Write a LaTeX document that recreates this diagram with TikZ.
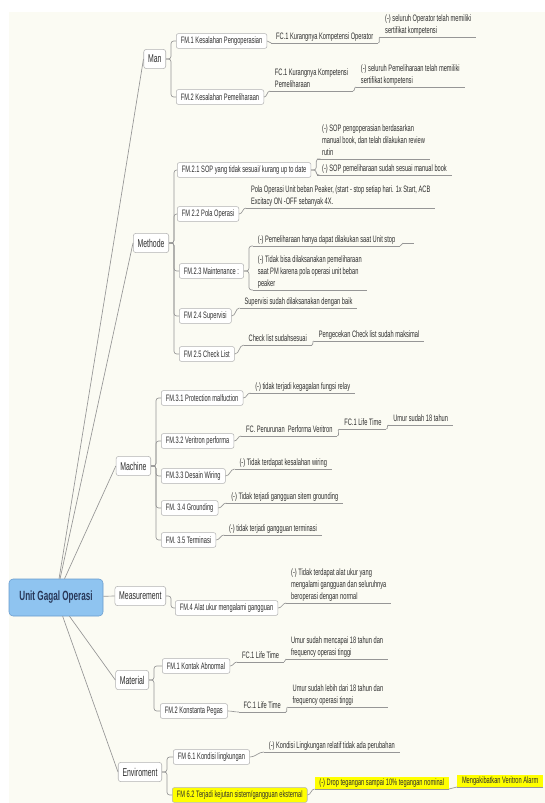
\documentclass[tikz,border=0pt]{standalone}
\usepackage{fontspec}
\setmainfont[FakeStretch=0.61]{Liberation Sans}
\usetikzlibrary{calc}

\definecolor{bgcream}{RGB}{251,251,243}
\definecolor{linegray}{RGB}{150,150,150}
\definecolor{boxgray}{RGB}{178,178,178}
\definecolor{txtgray}{RGB}{45,45,45}
\definecolor{rootblue}{RGB}{143,196,240}
\definecolor{rootedge}{RGB}{105,155,205}
\definecolor{rootink}{RGB}{40,55,88}
\definecolor{hiyellow}{RGB}{255,255,0}

\begin{document}
\begin{tikzpicture}[x=0.75pt,y=-0.75pt,
  root/.style={draw=rootedge,fill=rootblue,rounded corners=3pt,minimum width=70.5pt,minimum height=27.75pt,text=rootink,font=\fontsize{10}{12}\selectfont\bfseries},
  cat/.style={draw=boxgray,fill=white,rounded corners=2pt,minimum height=14.5pt,inner xsep=3.2pt,text=txtgray,font=\fontsize{8.5}{10}\selectfont,anchor=east},
  fm/.style={draw=boxgray,fill=white,rounded corners=1.5pt,minimum height=11pt,inner xsep=3.5pt,inner ysep=1.5pt,text=txtgray,font=\fontsize{7}{9}\selectfont,anchor=west},
  ul/.style={inner xsep=3.5pt,inner ysep=1.2pt,text depth=1.6pt,align=left,text=txtgray,font=\fontsize{7}{9}\selectfont,anchor=south west},
  hi/.style={fill=hiyellow},
  conn/.style={draw=linegray,line width=0.5pt,rounded corners=2pt}]
\useasboundingbox (0,0) rectangle (545,803);
\fill[bgcream] (9,12) rectangle (545,803);

\node[root] (root) at (56,597.5) {Unit Gagal Operasi};
\node[cat] (man) at (166,59) {Man};
\node[cat] (meth) at (169,243) {Methode};
\node[cat] (mach) at (151,466) {Machine};
\node[cat] (meas) at (166,596) {Measurement};
\node[cat] (mat) at (149,680) {Material};
\node[cat] (env) at (162,772) {Enviroment};

\node[fm] (fm11) at (176,41) {FM.1 Kesalahan Pengoperasian};
\node[ul] (fc11) at ($(fm11.east)+(4,2)$) {FC.1 Kurangnya Kompetensi Operator};
\node[ul] (n111) at ($(fc11.south east)+(2,-6)$) {(-) seluruh Operator telah memiliki\\sertifikat kompetensi};
\node[fm] (fm12) at (176,97) {FM.2 Kesalahan Pemeliharaan};
\node[ul] (fc12) at ($(fm12.east)+(6,-6)$) {FC.1 Kurangnya Kompetensi\\Pemeliharaan};
\node[ul] (n121) at ($(fc12.south east)+(3,-4)$) {(-) seluruh Pemeliharaan telah memiliki\\sertifikat kompetensi};

\node[fm] (fm21) at (177,170) {FM.2.1 SOP yang tidak sesuai/ kurang up to date};
\node[ul] (n211) at ($(fm21.east)+(6,-11)$) {(-) SOP pengoperasian berdasarkan\\manual book, dan telah dilakukan review\\rutin};
\node[ul] (n212) at ($(fm21.east)+(6,5)$) {(-) SOP pemeliharaan sudah sesuai manual book};
\node[fm] (fm22) at (177,214) {FM 2.2 Pola Operasi};
\node[ul] (n221) at ($(fm22.east)+(7,-6)$) {Pola Operasi Unit beban Peaker, (start - stop setiap hari. 1x Start, ACB\\Excitacy ON -OFF sebanyak 4X.};
\node[fm] (fm23) at (179,271) {FM.2.3 Maintenance :};
\node[ul] (n231) at ($(fm23.east)+(9,-25)$) {(-) Pemeliharaan hanya dapat dilakukan saat Unit stop};
\node[ul,minimum width=8pt] (n232) at ($(n231.south east)+(3,-3)$) {};
\node[ul] (n233) at ($(fm23.east)+(9,19)$) {(-) Tidak bisa dilaksanakan pemeliharaan\\saat PM karena pola operasi unit beban\\peaker};
\node[fm] (fm24) at (179,316) {FM 2.4 Supervisi};
\node[ul] (n241) at ($(fm24.east)+(8,-8)$) {Supervisi sudah dilaksanakan dengan baik};
\node[fm] (fm25) at (179,354) {FM 2.5 Check List};
\node[ul] (n251) at ($(fm25.east)+(9,-9)$) {Check list sudahsesuai};
\node[ul] (n252) at ($(n251.south east)+(2,-4)$) {Pengecekan Check list sudah maksimal};

\node[fm] (fm31) at (161,398) {FM.3.1 Protection malfuction};
\node[ul] (n311) at ($(fm31.east)+(7,-5)$) {(-) tidak terjadi kegagalan fungsi relay};
\node[fm] (fm32) at (161,441) {FM.3.2 Veritron performa};
\node[ul] (n321) at ($(fm32.east)+(7,-5)$) {FC. Penurunan~ Performa Veritron};
\node[ul] (n322) at ($(n321.south east)+(2,-7)$) {FC.1 Life Time};
\node[ul] (n323) at ($(n322.south east)+(2,-4)$) {Umur sudah 18 tahun};
\node[fm] (fm33) at (161,476) {FM.3.3 Desain Wiring};
\node[ul] (n331) at ($(fm33.east)+(9,-7)$) {(-) Tidak terdapat kesalahan wiring};
\node[fm] (fm34) at (161,508) {FM. 3.4 Grounding};
\node[ul] (n341) at ($(fm34.east)+(8,-5)$) {(-) Tidak terjadi gangguan sitem grounding};
\node[fm] (fm35) at (161,540) {FM. 3.5 Terminasi};
\node[ul] (n351) at ($(fm35.east)+(8,-5)$) {(-) tidak terjadi gangguan terminasi};

\node[fm] (fm41) at (175,608) {FM.4 Alat ukur mengalami gangguan};
\node[ul] (n411) at ($(fm41.east)+(8,-5)$) {(-) Tidak terdapat alat ukur yang\\mengalami gangguan dan seluruhnya\\beroperasi dengan normal};

\node[fm] (fm51) at (162,666) {FM.1 Kontak Abnormal};
\node[ul] (n511) at ($(fm51.east)+(7,-4)$) {FC.1 Life Time};
\node[ul] (n512) at ($(n511.south east)+(2,-3)$) {Umur sudah mencapai 18 tahun dan\\frequency operasi tinggi};
\node[fm] (fm52) at (160,711) {FM.2 Konstanta Pegas};
\node[ul] (n521) at ($(fm52.east)+(11,1)$) {FC.1 Life Time};
\node[ul] (n522) at ($(n521.south east)+(2,-5)$) {Umur sudah lebih dari 18 tahun dan\\frequency operasi tinggi};

\node[fm] (fm61) at (173,757) {FM 6.1 Kondisi lingkungan};
\node[ul] (n611) at ($(fm61.east)+(14,-5)$) {(-) Kondisi Lingkungan relatif tidak ada perubahan};
\node[fm,hi] (fm62) at (172,795) {FM 6.2 Terjadi kejutan sistem/gangguan eksternal};
\node[ul,hi] (n621) at ($(fm62.east)+(7,-6)$) {(-) Drop tegangan sampai 10\% tegangan nominal};
\node[ul,hi] (n622) at ($(n621.south east)+(8,-2)$) {Mengakibatkan Veritron Alarm};

\foreach \c in {man,meth,mach,meas,mat,env}
  \draw[conn] (root) -- (\c.west);
\foreach \c/\f in {man/fm11,man/fm12,meth/fm21,meth/fm22,meth/fm23,meth/fm24,meth/fm25,mach/fm31,mach/fm32,mach/fm33,mach/fm34,mach/fm35,meas/fm41,mat/fm51,mat/fm52,env/fm61,env/fm62}
  \draw[conn] (\c.east) -- ++(5,0) |- (\f.west);
\foreach \a/\b in {fm21/n211,fm21/n212,fm23/n231,fm23/n233}
  \draw[conn] (\a.east) -- ++(5,0) |- (\b.south west);
\foreach \a/\b in {fm11.east/fc11,fc11.south east/n111,fm12.east/fc12,fc12.south east/n121,fm22.east/n221,n231.south east/n232,fm24.east/n241,fm25.east/n251,n251.south east/n252,fm31.east/n311,fm32.east/n321,n321.south east/n322,n322.south east/n323,fm33.east/n331,fm34.east/n341,fm35.east/n351,fm41.east/n411,fm51.east/n511,n511.south east/n512,fm52.east/n521,n521.south east/n522,fm61.east/n611,fm62.east/n621,n621.south east/n622}
  \draw[conn] (\a) to[out=0,in=180] (\b.south west);
\foreach \n in {fc11,n111,fc12,n121,n211,n212,n221,n231,n232,n233,n241,n251,n252,n311,n321,n322,n323,n331,n341,n351,n411,n511,n512,n521,n522,n611,n621,n622}
  \draw[conn] (\n.south west) -- (\n.south east);
\end{tikzpicture}
\end{document}
